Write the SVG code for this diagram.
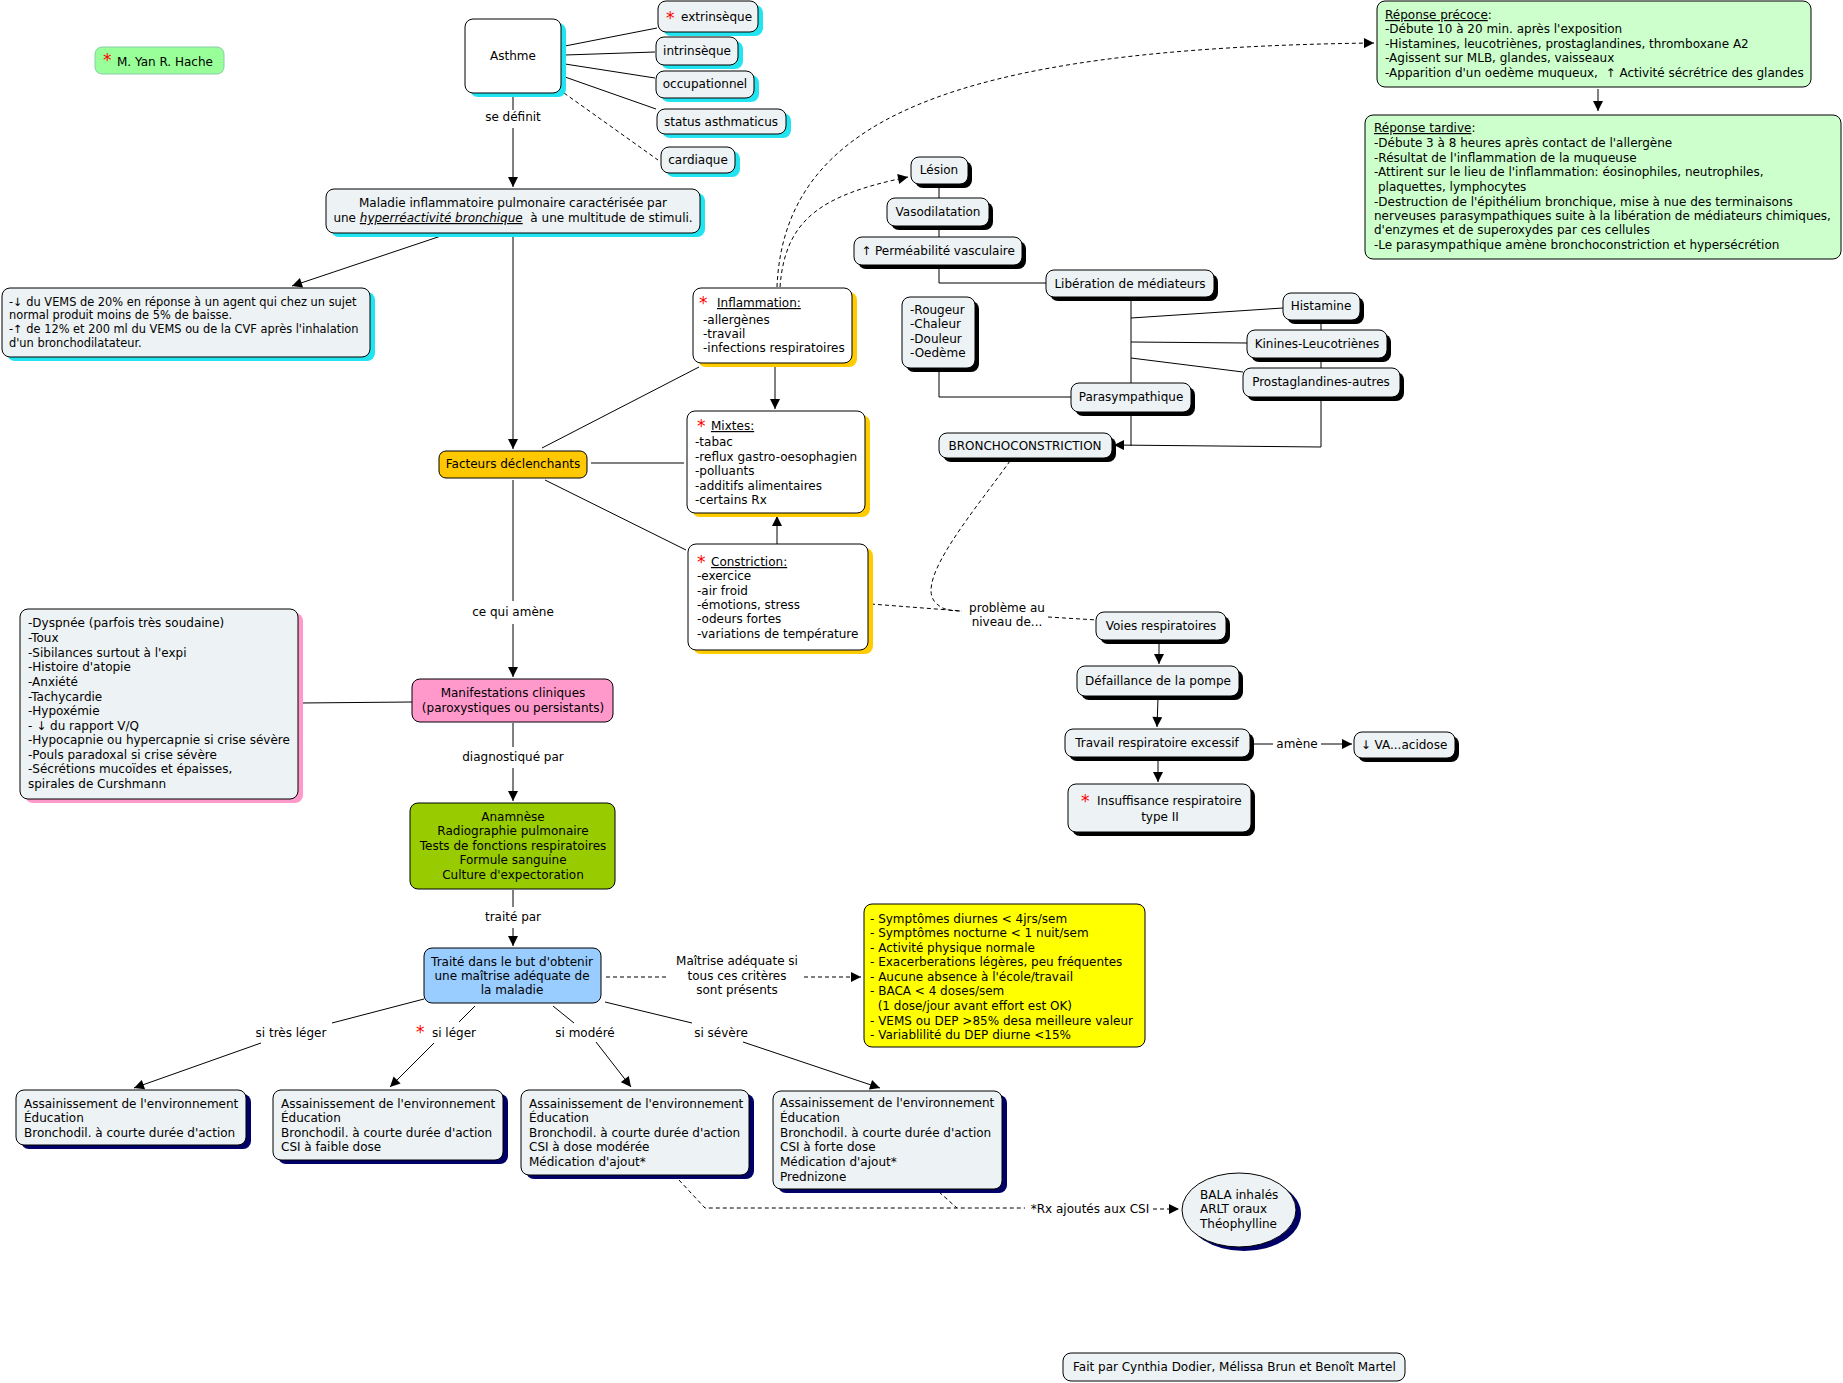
<svg xmlns="http://www.w3.org/2000/svg" width="1843" height="1383" viewBox="0 0 1843 1383">
<style>
text { font-family: "DejaVu Sans", Verdana, sans-serif; font-size: 12px; fill: #000; }
.m { text-anchor: middle; }
.nd { fill: #edf2f4; stroke: #000; stroke-width: 1; }
.wh { fill: #ffffff; stroke: #000; stroke-width: 1; }
.ln { stroke: #000; stroke-width: 1; fill: none; }
.ds { stroke-dasharray: 4 3; }
.ast { fill: #ff0000; font-size: 17px; }
.sc { fill: #22e4f0; }
.sy { fill: #ffcc00; }
.sk { fill: #000000; }
.sn { fill: #000066; }
.sp { fill: #ff99cc; }
.u { text-decoration: underline; }
.sm { font-size: 11.4px; }
</style>
<defs>
<marker id="a" viewBox="0 0 10 10" refX="10" refY="5" markerWidth="11" markerHeight="10" markerUnits="userSpaceOnUse" orient="auto">
<path d="M0,0 L10,5 L0,10 z" fill="#000"/>
</marker>
</defs>
<rect width="1843" height="1383" fill="#ffffff"/>

<g id="connectors">
<path class="ln" d="M565,46 L657,28"/>
<path class="ln" d="M565,55 L655,52"/>
<path class="ln" d="M565,64 L655,78"/>
<path class="ln" d="M565,77 L656,109"/>
<path class="ln ds" d="M564,93 L658,160"/>
<path class="ln" d="M513,97 L513,110"/>
<text class="m" x="513" y="121">se définit</text>
<path class="ln" d="M513,128 L513,187" marker-end="url(#a)"/>
<path class="ln" d="M441,236 L292,286" marker-end="url(#a)"/>
<path class="ln" d="M513,235 L513,449" marker-end="url(#a)"/>
<path class="ln" d="M542,448 L699,367"/>
<path class="ln" d="M591,463 L684,463"/>
<path class="ln" d="M545,480 L686,550"/>
<path class="ln" d="M775,367 L775,409" marker-end="url(#a)"/>
<path class="ln" d="M777,544 L777,516" marker-end="url(#a)"/>
<path class="ln ds" d="M777,287 C784,120 950,48 1374,43" marker-end="url(#a)"/>
<path class="ln ds" d="M780,287 C785,220 820,195 908,177" marker-end="url(#a)"/>
<path class="ln" d="M939,184 L939,198"/>
<path class="ln" d="M939,226 L939,237"/>
<path class="ln" d="M939,265 L939,283 L1046,283"/>
<path class="ln" d="M939,368 L939,397 L1071,397"/>
<path class="ln" d="M1131,297 L1131,383"/>
<path class="ln" d="M1131,318 L1283,308"/>
<path class="ln" d="M1131,342 L1247,343"/>
<path class="ln" d="M1131,358 L1243,372"/>
<path class="ln" d="M1321,320 L1321,330"/>
<path class="ln" d="M1321,358 L1321,368"/>
<path class="ln" d="M1131,412 L1131,446"/>
<path class="ln" d="M1321,397 L1321,447 L1114,445" marker-end="url(#a)"/>
<path class="ln ds" d="M1010,461 C975,510 915,580 935,602 C942,610 950,611 962,611"/>
<path class="ln ds" d="M871,604 L962,611"/>
<text class="m" x="1007" y="612">problème au</text>
<text class="m" x="1007" y="626">niveau de...</text>
<path class="ln ds" d="M1048,617 L1097,620"/>
<path class="ln" d="M1159,641 L1159,664" marker-end="url(#a)"/>
<path class="ln" d="M1158,698 L1157,727" marker-end="url(#a)"/>
<path class="ln" d="M1252,744 L1273,744"/>
<text class="m" x="1297" y="748">amène</text>
<path class="ln" d="M1321,744 L1352,744" marker-end="url(#a)"/>
<path class="ln" d="M1158,759 L1158,782" marker-end="url(#a)"/>
<path class="ln" d="M513,480 L513,601"/>
<text class="m" x="513" y="616">ce qui amène</text>
<path class="ln" d="M513,624 L513,677" marker-end="url(#a)"/>
<path class="ln" d="M300,703 L412,702"/>
<path class="ln" d="M513,723 L513,747"/>
<text class="m" x="513" y="761">diagnostiqué par</text>
<path class="ln" d="M513,768 L513,801" marker-end="url(#a)"/>
<path class="ln" d="M513,890 L513,907"/>
<text class="m" x="513" y="921">traité par</text>
<path class="ln" d="M513,928 L513,946" marker-end="url(#a)"/>
<path class="ln ds" d="M606,977 L668,977"/>
<text class="m" x="737" y="965">Maîtrise adéquate si</text>
<text class="m" x="737" y="980">tous ces critères</text>
<text class="m" x="737" y="994">sont présents</text>
<path class="ln ds" d="M804,977 L861,977" marker-end="url(#a)"/>
<path class="ln" d="M424,999 L332,1023"/>
<text class="m" x="291" y="1037">si très léger</text>
<path class="ln" d="M261,1043 L134,1088" marker-end="url(#a)"/>
<path class="ln" d="M475,1006 L459,1022"/>
<text class="ast" x="416" y="1038">*</text>
<text class="m" x="454" y="1037">si léger</text>
<path class="ln" d="M434,1043 L390,1087" marker-end="url(#a)"/>
<path class="ln" d="M553,1006 L574,1023"/>
<text class="m" x="585" y="1037">si modéré</text>
<path class="ln" d="M596,1042 L631,1087" marker-end="url(#a)"/>
<path class="ln" d="M605,1002 L692,1023"/>
<text class="m" x="721" y="1037">si sévère</text>
<path class="ln" d="M743,1042 L880,1088" marker-end="url(#a)"/>
<path class="ln ds" d="M679,1180 L705,1208 L1025,1208"/>
<path class="ln ds" d="M939,1192 L957,1208"/>
<text class="m" x="1090" y="1213">*Rx ajoutés aux CSI</text>
<path class="ln ds" d="M1153,1209 L1179,1209" marker-end="url(#a)"/>
<path class="ln" d="M1598,89 L1598,111" marker-end="url(#a)"/>
</g>

<g id="yan">
<rect x="95" y="47" width="129" height="27" rx="7" fill="#99ff99" stroke="#88ccaa"/>
<text class="ast" x="103" y="66">*</text>
<text x="117" y="66">M. Yan R. Hache</text>
</g>

<g id="asthme">
<rect class="sc" x="470" y="23" width="96" height="74" rx="8"/>
<rect class="wh" x="465" y="19" width="96" height="74" rx="8"/>
<text class="m" x="513" y="60">Asthme</text>
</g>
<g id="extrinseque">
<rect class="sc" x="663" y="5" width="100" height="31" rx="8"/>
<rect class="nd" x="658" y="1" width="100" height="31" rx="8"/>
<text class="ast" x="666" y="24">*</text>
<text x="681" y="21">extrinsèque</text>
</g>
<g id="intrinseque">
<rect class="sc" x="661" y="41" width="82" height="28" rx="8"/>
<rect class="nd" x="656" y="37" width="82" height="28" rx="8"/>
<text class="m" x="697" y="55">intrinsèque</text>
</g>
<g id="occupationnel">
<rect class="sc" x="661" y="75" width="98" height="27" rx="8"/>
<rect class="nd" x="656" y="71" width="98" height="27" rx="8"/>
<text class="m" x="705" y="88">occupationnel</text>
</g>
<g id="status">
<rect class="sc" x="662" y="113" width="129" height="25" rx="8"/>
<rect class="nd" x="657" y="109" width="129" height="25" rx="8"/>
<text class="m" x="721" y="126">status asthmaticus</text>
</g>
<g id="cardiaque">
<rect class="sc" x="666" y="151" width="74" height="26" rx="8"/>
<rect class="nd" x="661" y="147" width="74" height="26" rx="8"/>
<text class="m" x="698" y="164">cardiaque</text>
</g>

<g id="maladie">
<rect class="sc" x="331" y="193" width="374" height="44" rx="8"/>
<rect class="nd" x="326" y="189" width="374" height="44" rx="8"/>
<text class="m" x="513" y="207">Maladie inflammatoire pulmonaire caractérisée par</text>
<text class="m" x="513" y="222" xml:space="preserve">une <tspan class="u" font-style="italic">hyperréactivité bronchique</tspan>  à une multitude de stimuli.</text>
</g>

<g id="vems">
<rect class="sc" x="7" y="292" width="368" height="69" rx="8"/>
<rect class="nd" x="2" y="288" width="368" height="69" rx="8"/>
<text class="sm" x="9" y="306">-↓ du VEMS de 20% en réponse à un agent qui chez un sujet</text>
<text class="sm" x="9" y="319">normal produit moins de 5% de baisse.</text>
<text class="sm" x="9" y="333">-↑ de 12% et 200 ml du VEMS ou de la CVF après l'inhalation</text>
<text class="sm" x="9" y="347">d'un bronchodilatateur.</text>
</g>

<g id="facteurs">
<rect x="439" y="451" width="148" height="27" rx="7" fill="#ffc800" stroke="#000"/>
<text class="m" x="513" y="468">Facteurs déclenchants</text>
</g>

<g id="inflammation">
<rect class="sy" x="698" y="292" width="159" height="75" rx="8"/>
<rect class="wh" x="693" y="288" width="159" height="75" rx="8"/>
<text class="ast" x="699" y="309">*</text>
<text class="u" x="717" y="307">Inflammation:</text>
<text x="703" y="324">-allergènes</text>
<text x="703" y="338">-travail</text>
<text x="703" y="352">-infections respiratoires</text>
</g>

<g id="mixtes">
<rect class="sy" x="692" y="415" width="178" height="102" rx="8"/>
<rect class="wh" x="687" y="411" width="178" height="102" rx="8"/>
<text class="ast" x="697" y="432">*</text>
<text class="u" x="711" y="430">Mixtes:</text>
<text x="695" y="446">-tabac</text>
<text x="695" y="461">-reflux gastro-oesophagien</text>
<text x="695" y="475">-polluants</text>
<text x="695" y="490">-additifs alimentaires</text>
<text x="695" y="504">-certains Rx</text>
</g>

<g id="constriction">
<rect class="sy" x="693" y="548" width="180" height="106" rx="8"/>
<rect class="wh" x="688" y="544" width="180" height="106" rx="8"/>
<text class="ast" x="697" y="568">*</text>
<text class="u" x="711" y="566">Constriction:</text>
<text x="697" y="580">-exercice</text>
<text x="697" y="595">-air froid</text>
<text x="697" y="609">-émotions, stress</text>
<text x="697" y="623">-odeurs fortes</text>
<text x="697" y="638">-variations de température</text>
</g>

<g id="lesion">
<rect class="sk" x="915" y="161" width="57" height="27" rx="8"/>
<rect class="nd" x="911" y="157" width="57" height="27" rx="8"/>
<text class="m" x="939" y="174">Lésion</text>
</g>
<g id="vasodilatation">
<rect class="sk" x="891" y="202" width="102" height="28" rx="8"/>
<rect class="nd" x="887" y="198" width="102" height="28" rx="8"/>
<text class="m" x="938" y="216">Vasodilatation</text>
</g>
<g id="permeabilite">
<rect class="sk" x="858" y="241" width="168" height="28" rx="8"/>
<rect class="nd" x="854" y="237" width="168" height="28" rx="8"/>
<text class="m" x="938" y="255">↑ Perméabilité vasculaire</text>
</g>
<g id="liberation">
<rect class="sk" x="1050" y="274" width="168" height="27" rx="8"/>
<rect class="nd" x="1046" y="270" width="168" height="27" rx="8"/>
<text class="m" x="1130" y="288">Libération de médiateurs</text>
</g>
<g id="rougeur">
<rect class="sk" x="906" y="301" width="73" height="71" rx="8"/>
<rect class="nd" x="902" y="297" width="73" height="71" rx="8"/>
<text x="910" y="314">-Rougeur</text>
<text x="910" y="328">-Chaleur</text>
<text x="910" y="343">-Douleur</text>
<text x="910" y="357">-Oedème</text>
</g>
<g id="parasympathique">
<rect class="sk" x="1075" y="387" width="120" height="29" rx="8"/>
<rect class="nd" x="1071" y="383" width="120" height="29" rx="8"/>
<text class="m" x="1131" y="401">Parasympathique</text>
</g>
<g id="histamine">
<rect class="sk" x="1287" y="297" width="77" height="27" rx="8"/>
<rect class="nd" x="1283" y="293" width="77" height="27" rx="8"/>
<text class="m" x="1321" y="310">Histamine</text>
</g>
<g id="kinines">
<rect class="sk" x="1251" y="334" width="140" height="28" rx="8"/>
<rect class="nd" x="1247" y="330" width="140" height="28" rx="8"/>
<text class="m" x="1317" y="348">Kinines-Leucotriènes</text>
</g>
<g id="prostaglandines">
<rect class="sk" x="1247" y="372" width="157" height="29" rx="8"/>
<rect class="nd" x="1243" y="368" width="157" height="29" rx="8"/>
<text class="m" x="1321" y="386">Prostaglandines-autres</text>
</g>
<g id="broncho">
<rect class="sk" x="943" y="437" width="173" height="25" rx="8"/>
<rect class="nd" x="939" y="433" width="173" height="25" rx="8"/>
<text class="m" x="1025" y="450">BRONCHOCONSTRICTION</text>
</g>

<g id="precoce">
<rect x="1377" y="1" width="434" height="86" rx="8" fill="#ccffcc" stroke="#000"/>
<text x="1385" y="19"><tspan class="u">Réponse précoce</tspan>:</text>
<text x="1385" y="33">-Débute 10 à 20 min. après l'exposition</text>
<text x="1385" y="48">-Histamines, leucotriènes, prostaglandines, thromboxane A2</text>
<text x="1385" y="62">-Agissent sur MLB, glandes, vaisseaux</text>
<text x="1385" y="77" xml:space="preserve">-Apparition d'un oedème muqueux,  ↑ Activité sécrétrice des glandes</text>
</g>
<g id="tardive">
<rect x="1365" y="115" width="476" height="144" rx="8" fill="#ccffcc" stroke="#000"/>
<text x="1374" y="132"><tspan class="u">Réponse tardive</tspan>:</text>
<text x="1374" y="147">-Débute 3 à 8 heures après contact de l'allergène</text>
<text x="1374" y="162">-Résultat de l'inflammation de la muqueuse</text>
<text x="1374" y="176">-Attirent sur le lieu de l'inflammation: éosinophiles, neutrophiles,</text>
<text x="1378" y="191">plaquettes, lymphocytes</text>
<text x="1374" y="206">-Destruction de l'épithélium bronchique, mise à nue des terminaisons</text>
<text x="1374" y="220">nerveuses parasympathiques suite à la libération de médiateurs chimiques,</text>
<text x="1374" y="234">d'enzymes et de superoxydes par ces cellules</text>
<text x="1374" y="249">-Le parasympathique amène bronchoconstriction et hypersécrétion</text>
</g>

<g id="symptomes">
<rect class="sp" x="25" y="613" width="278" height="190" rx="8"/>
<rect class="nd" x="20" y="609" width="278" height="190" rx="8"/>
<text x="28" y="627">-Dyspnée (parfois très soudaine)</text>
<text x="28" y="642">-Toux</text>
<text x="28" y="657">-Sibilances surtout à l'expi</text>
<text x="28" y="671">-Histoire d'atopie</text>
<text x="28" y="686">-Anxiété</text>
<text x="28" y="701">-Tachycardie</text>
<text x="28" y="715">-Hypoxémie</text>
<text x="28" y="730">- ↓ du rapport V/Q</text>
<text x="28" y="744">-Hypocapnie ou hypercapnie si crise sévère</text>
<text x="28" y="759">-Pouls paradoxal si crise sévère</text>
<text x="28" y="773">-Sécrétions mucoïdes et épaisses,</text>
<text x="28" y="788">spirales de Curshmann</text>
</g>

<g id="manifestations">
<rect x="412" y="679" width="201" height="43" rx="8" fill="#ff99cc" stroke="#000"/>
<text class="m" x="513" y="697">Manifestations cliniques</text>
<text class="m" x="513" y="712">(paroxystiques ou persistants)</text>
</g>

<g id="anamnese">
<rect x="410" y="803" width="205" height="86" rx="8" fill="#99cc00" stroke="#000"/>
<text class="m" x="513" y="821">Anamnèse</text>
<text class="m" x="513" y="835">Radiographie pulmonaire</text>
<text class="m" x="513" y="850">Tests de fonctions respiratoires</text>
<text class="m" x="513" y="864">Formule sanguine</text>
<text class="m" x="513" y="879">Culture d'expectoration</text>
</g>

<g id="traite">
<rect x="424" y="948" width="177" height="55" rx="8" fill="#99ccff" stroke="#000"/>
<text class="m" x="512" y="966">Traité dans le but d'obtenir</text>
<text class="m" x="512" y="980">une maîtrise adéquate de</text>
<text class="m" x="512" y="994">la maladie</text>
</g>

<g id="criteres">
<rect x="864" y="904" width="281" height="143" rx="8" fill="#ffff00" stroke="#000"/>
<text x="870" y="923">- Symptômes diurnes &lt; 4jrs/sem</text>
<text x="870" y="937">- Symptômes nocturne &lt; 1 nuit/sem</text>
<text x="870" y="952">- Activité physique normale</text>
<text x="870" y="966">- Exacerberations légères, peu fréquentes</text>
<text x="870" y="981">- Aucune absence à l'école/travail</text>
<text x="870" y="995">- BACA &lt; 4 doses/sem</text>
<text x="870" y="1010" xml:space="preserve">  (1 dose/jour avant effort est OK)</text>
<text x="870" y="1025">- VEMS ou DEP &gt;85% desa meilleure valeur</text>
<text x="870" y="1039">- Variablilité du DEP diurne &lt;15%</text>
</g>

<g id="tres-leger">
<rect class="sn" x="21" y="1094" width="230" height="55" rx="8"/>
<rect class="nd" x="16" y="1090" width="230" height="55" rx="8"/>
<text x="24" y="1108">Assainissement de l'environnement</text>
<text x="24" y="1122">Éducation</text>
<text x="24" y="1137">Bronchodil. à courte durée d'action</text>
</g>
<g id="leger">
<rect class="sn" x="278" y="1094" width="230" height="70" rx="8"/>
<rect class="nd" x="273" y="1090" width="230" height="70" rx="8"/>
<text x="281" y="1108">Assainissement de l'environnement</text>
<text x="281" y="1122">Éducation</text>
<text x="281" y="1137">Bronchodil. à courte durée d'action</text>
<text x="281" y="1151">CSI à faible dose</text>
</g>
<g id="modere">
<rect class="sn" x="526" y="1094" width="228" height="85" rx="8"/>
<rect class="nd" x="521" y="1090" width="228" height="85" rx="8"/>
<text x="529" y="1108">Assainissement de l'environnement</text>
<text x="529" y="1122">Éducation</text>
<text x="529" y="1137">Bronchodil. à courte durée d'action</text>
<text x="529" y="1151">CSI à dose modérée</text>
<text x="529" y="1166">Médication d'ajout*</text>
</g>
<g id="severe">
<rect class="sn" x="778" y="1095" width="229" height="98" rx="8"/>
<rect class="nd" x="773" y="1091" width="229" height="98" rx="8"/>
<text x="780" y="1107">Assainissement de l'environnement</text>
<text x="780" y="1122">Éducation</text>
<text x="780" y="1137">Bronchodil. à courte durée d'action</text>
<text x="780" y="1151">CSI à forte dose</text>
<text x="780" y="1166">Médication d'ajout*</text>
<text x="780" y="1181">Prednizone</text>
</g>

<g id="rx">
<ellipse class="sn" cx="1244" cy="1214" rx="57" ry="37"/>
<ellipse class="nd" cx="1239" cy="1210" rx="57" ry="37"/>
<text x="1200" y="1199">BALA inhalés</text>
<text x="1200" y="1213">ARLT oraux</text>
<text x="1200" y="1228">Théophylline</text>
</g>

<g id="voies">
<rect class="sk" x="1100" y="616" width="130" height="28" rx="8"/>
<rect class="nd" x="1096" y="612" width="130" height="28" rx="8"/>
<text class="m" x="1161" y="630">Voies respiratoires</text>
</g>
<g id="defaillance">
<rect class="sk" x="1081" y="670" width="162" height="30" rx="8"/>
<rect class="nd" x="1077" y="666" width="162" height="30" rx="8"/>
<text class="m" x="1158" y="685">Défaillance de la pompe</text>
</g>
<g id="travail">
<rect class="sk" x="1069" y="733" width="185" height="28" rx="8"/>
<rect class="nd" x="1065" y="729" width="185" height="28" rx="8"/>
<text class="m" x="1157" y="747">Travail respiratoire excessif</text>
</g>
<g id="acidose">
<rect class="sk" x="1358" y="736" width="101" height="26" rx="8"/>
<rect class="nd" x="1354" y="732" width="101" height="26" rx="8"/>
<text class="m" x="1404" y="749">↓ VA...acidose</text>
</g>
<g id="insuffisance">
<rect class="sk" x="1072" y="788" width="183" height="48" rx="8"/>
<rect class="nd" x="1068" y="784" width="183" height="48" rx="8"/>
<text class="ast" x="1081" y="807">*</text>
<text x="1097" y="805">Insuffisance respiratoire</text>
<text class="m" x="1160" y="821">type II</text>
</g>

<g id="fait-par">
<rect class="nd" x="1063" y="1353" width="342" height="28" rx="8"/>
<text x="1073" y="1371">Fait par Cynthia Dodier, Mélissa Brun et Benoît Martel</text>
</g>
</svg>
